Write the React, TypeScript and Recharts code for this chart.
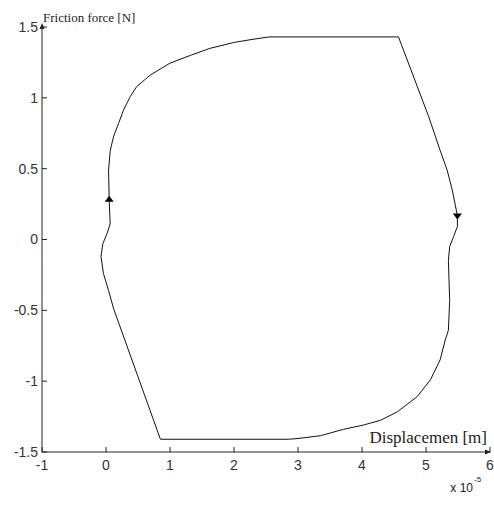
import { LineChart, Line, XAxis, YAxis, ReferenceDot } from 'recharts'

// hysteresis loop, displacement in units of 1e-5 m, traversed from the lower-left corner upward
const dispX = [
  0.85, 0.12, 0.04, -0.04, -0.078, -0.05, 0.015, 0.065, 0.05, 0.04,
  0.067, 0.12, 0.197, 0.275, 0.38, 0.48, 0.69, 1.0, 1.32, 1.63,
  1.99, 2.25, 2.55, 4.57, 5.04, 5.22, 5.33, 5.41, 5.49, 5.49,
  5.43, 5.37, 5.35, 5.37, 5.35, 5.3, 5.22, 5.07, 4.86, 4.55,
  4.29, 4.02, 3.71, 3.35, 3.0, 2.85, 0.85,
]
const frictionN = [
  -1.41, -0.49, -0.36, -0.24, -0.12, -0.03, 0.04, 0.11, 0.28, 0.49,
  0.63, 0.73, 0.82, 0.915, 1.01, 1.08, 1.16, 1.245, 1.3, 1.35,
  1.39, 1.41, 1.43, 1.43, 0.87, 0.63, 0.49, 0.35, 0.17, 0.09,
  0.02, -0.05, -0.15, -0.43, -0.64, -0.71, -0.85, -0.99, -1.11, -1.217,
  -1.276, -1.31, -1.34, -1.385, -1.405, -1.41, -1.41,
]

const xTicks = [-1, 0, 1, 2, 3, 4, 5, 6]
const yTicks = [-1.5, -1, -0.5, 0, 0.5, 1, 1.5]

// direction markers on the loop
const arrowX = [0.05, 5.49]
const arrowY = [0.28, 0.17]
const arrowDir = ['up', 'down']

const data = dispX.map((x, i) => ({ x, y: frictionN[i] }))

const INK = '#222'
const tickFont = { fill: '#333', fontSize: 14, fontFamily: 'Arial, "Liberation Sans", sans-serif' }

const UpArrow = ({ cx, cy }: any) => (
  <polygon points={`${cx},${cy - 4} ${cx - 4.5},${cy + 2} ${cx + 4.5},${cy + 2}`} fill="#000" />
)
const DownArrow = ({ cx, cy }: any) => (
  <polygon points={`${cx},${cy + 4} ${cx - 4.5},${cy - 2} ${cx + 4.5},${cy - 2}`} fill="#000" />
)
const AxisHeadUp = ({ cx, cy }: any) => (
  <polygon points={`${cx},${cy - 4} ${cx - 2.5},${cy + 2} ${cx + 2.5},${cy + 2}`} fill={INK} />
)
const AxisHeadRight = ({ cx, cy }: any) => (
  <polygon points={`${cx + 1},${cy} ${cx - 5},${cy - 2.5} ${cx - 5},${cy + 2.5}`} fill={INK} />
)

export default function App() {
  return (
    <div style={{ position: 'absolute', left: 0, top: 0, width: 494, height: 505, background: '#fff' }}>
      <LineChart width={494} height={505} data={data} margin={{ top: 27, right: 4, bottom: 23, left: 0 }}>
        <XAxis
          type="number"
          dataKey="x"
          domain={[-1, 6]}
          ticks={xTicks}
          interval={0}
          height={30}
          tickSize={-5}
          tickMargin={13}
          axisLine={{ stroke: INK }}
          tickLine={{ stroke: INK }}
          tick={tickFont}
          allowDataOverflow
        />
        <YAxis
          type="number"
          domain={[-1.5, 1.5]}
          ticks={yTicks}
          interval={0}
          width={42}
          tickSize={-5}
          tickMargin={9}
          axisLine={{ stroke: INK }}
          tickLine={{ stroke: INK }}
          tick={tickFont}
          allowDataOverflow
        />
        <Line
          type="linear"
          dataKey="y"
          stroke="#111"
          strokeWidth={1}
          dot={false}
          isAnimationActive={false}
        />
        {arrowX.map((x, i) => (
          <ReferenceDot
            key={i}
            x={x}
            y={arrowY[i]}
            shape={arrowDir[i] === 'up' ? UpArrow : DownArrow}
          />
        ))}
        <ReferenceDot x={-1} y={1.5} shape={AxisHeadUp} />
        <ReferenceDot x={6} y={-1.5} shape={AxisHeadRight} />
      </LineChart>
      <svg
        width={494}
        height={505}
        style={{ position: 'absolute', left: 0, top: 0, pointerEvents: 'none' }}
      >
        <text x={43} y={21.5} fontFamily='"Liberation Serif", "Times New Roman", serif' fontSize={13} fill={INK}>
          Friction force [N]
        </text>
        <text x={487} y={443} textAnchor="end" fontFamily='"Liberation Serif", "Times New Roman", serif' fontSize={17} fill={INK}>
          Displacemen [m]
        </text>
        <text x={473} y={491.5} textAnchor="end" fontFamily='Arial, "Liberation Sans", sans-serif' fontSize={12} fill={INK}>
          x 10
        </text>
        <text x={474} y={482} fontFamily='Arial, "Liberation Sans", sans-serif' fontSize={8} fill={INK}>
          -5
        </text>
      </svg>
    </div>
  )
}
